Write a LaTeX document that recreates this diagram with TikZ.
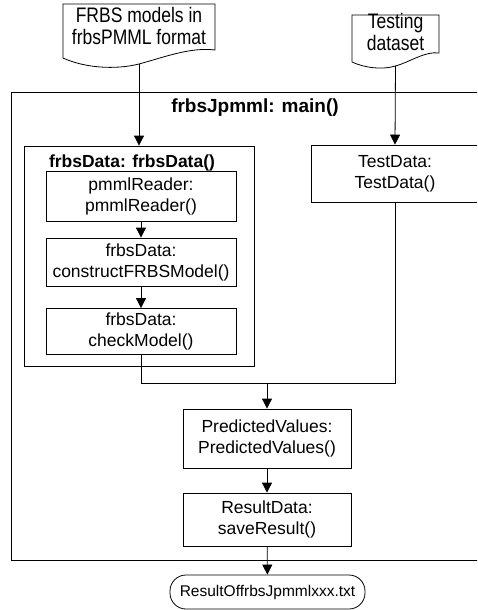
\documentclass[tikz,border=0pt]{standalone}
\usepackage{fontspec}
\usepackage{graphicx}
\setmainfont{Liberation Sans}
\usetikzlibrary{arrows.meta}
\newcommand{\doctext}[1]{\scalebox{1}[1.2]{\fontsize{17.5}{18.3}\selectfont\begin{tabular}{@{}c@{}}#1\end{tabular}}}
\begin{document}
\begin{tikzpicture}[x=1pt,y=-1pt,
  every node/.style={font=\fontsize{17.5}{21}\selectfont, align=center, inner sep=0pt},
  box/.style={draw, line width=0.8pt},
  docshape/.style={draw, line width=0.8pt, fill=white},
  conn/.style={line width=0.8pt},
  arr/.style={conn, -{Triangle[length=10pt,width=10pt]}},
  ttl/.style={font=\fontsize{17.5}{21}\selectfont\bfseries},
]
\useasboundingbox (0,0) rectangle (477,610);
\clip (0,0) rectangle (477,610);

% main frame
\node[box, minimum width=488pt, minimum height=468pt] (main) at (255,326) {};
\node[ttl, font=\fontsize{19}{22}\selectfont\bfseries] (mtitle) at (255,108) {frbsJpmml: main()};

% documents
\draw[docshape] (63,58) -- (63,4) -- (215,4) -- (215,50)
  .. controls (190,47) and (165,57) .. (139,64)
  .. controls (115,70) and (85,68) .. (63,58) -- cycle;
\node (doc1) at (139,29) {\doctext{FRBS models in\\frbsPMML format}};
\coordinate (d1b) at (139,64);

\draw[docshape] (352,62) -- (352,15) -- (439,15) -- (439,53)
  .. controls (425,51) and (410,62) .. (395.5,66)
  .. controls (382,70) and (365,68) .. (352,62) -- cycle;
\node (doc2) at (395.5,35) {\doctext{Testing\\dataset}};
\coordinate (d2b) at (395.5,66);

% frbsData group
\node[box, minimum width=230pt, minimum height=220pt] (frbs) at (139,256) {};
\node[ttl] (ftitle) at (132,163) {frbsData: frbsData()};
\node[box, minimum width=190pt, minimum height=50pt] (reader) at (141,196) {pmmlReader:\\pmmlReader()};
\node[box, minimum width=190pt, minimum height=48pt] (construct) at (141,262) {frbsData:\\constructFRBSModel()};
\node[box, minimum width=190pt, minimum height=46pt] (check) at (141,331.5) {frbsData:\\checkModel()};

% test data
\node[box, minimum width=168pt, minimum height=57pt] (test) at (395,173.5) {TestData:\\TestData()};

% lower chain
\coordinate (m) at (267,383);
\node[box, minimum width=168pt, minimum height=59pt] (pred) at (267,438.5) {PredictedValues:\\PredictedValues()};
\node[box, minimum width=168pt, minimum height=53pt] (result) at (267,519.5) {ResultData:\\saveResult()};
\node[box, rounded corners=16pt, minimum width=195pt, minimum height=34pt, font=\fontsize{15.5}{18}\selectfont] (out) at (267.5,592) {ResultOffrbsJpmmlxxx.txt};

% connectors
\draw[arr] (d1b) -- (d1b |- frbs.north);
\draw[arr] (d2b) -- (test.north);
\draw[arr] (reader) -- (construct);
\draw[arr] (construct) -- (check);
\draw[conn] (check.south) |- (m);
\draw[conn] (test.south) |- (m);
\draw[arr] (m) -- (pred.north);
\draw[arr] (pred) -- (result);
\draw[arr] (result) -- (out);
\end{tikzpicture}
\end{document}
